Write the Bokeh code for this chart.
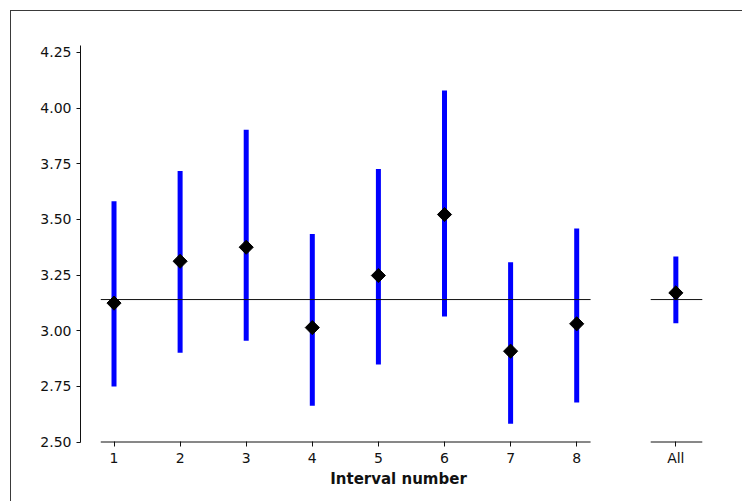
import math

from bokeh.embed import file_html
from bokeh.models import FixedTicker, NumeralTickFormatter, Range1d
from bokeh.plotting import figure
from bokeh.resources import INLINE

# Interval estimates: point value with lower/upper interval limits
intervals = [1, 2, 3, 4, 5, 6, 7, 8]
means = [3.124, 3.312, 3.375, 3.014, 3.248, 3.522, 2.908, 3.031]
lower = [2.749, 2.901, 2.955, 2.663, 2.848, 3.064, 2.582, 2.677]
upper = [3.582, 3.717, 3.903, 3.435, 3.727, 4.079, 3.308, 3.459]

# Pooled estimate over all intervals, drawn apart from the others
all_label = "All"
all_position = 9.5
all_mean = 3.170
all_lower = 3.034
all_upper = 3.333

# Reference level shown as a horizontal line
ref_level = 3.14

y_ticks = [2.50, 2.75, 3.00, 3.25, 3.50, 3.75, 4.00, 4.25]
x_tick_positions = intervals + [all_position]
x_tick_labels = [str(i) for i in intervals] + [all_label]

FONT = "DejaVu Sans"
BLUE = "#0000ff"
INK = "#111111"

p = figure(
    width=732,
    height=491,
    x_range=Range1d(0.493, 10.115),
    y_range=Range1d(2.4933, 4.2813),
    output_backend="svg",
    toolbar_location=None,
    min_border_left=69,
    min_border_right=27,
    min_border_top=34,
    min_border_bottom=59,
)
p.margin = (10, 0, 0, 10)
p.styles = {"border-top": "1px solid #3a3a3a", "border-left": "1px solid #3a3a3a"}
p.background_fill_color = "white"
p.border_fill_color = "white"
p.outline_line_color = None
p.xgrid.visible = False
p.ygrid.visible = False

# Horizontal extents of the two groups (intervals 1-8 and the pooled one)
group_x0 = [intervals[0] - 0.2, all_position - 0.38]
group_x1 = [intervals[-1] + 0.21, all_position + 0.4]
base = y_ticks[0]

# Broken x-axis baseline, one piece per group
p.segment(x0=group_x0, y0=[base, base], x1=group_x1, y1=[base, base],
          line_color=INK, line_width=1)

# Interval bars
p.segment(x0=intervals, y0=lower, x1=intervals, y1=upper,
          line_color=BLUE, line_width=5)
p.segment(x0=[all_position], y0=[all_lower], x1=[all_position], y1=[all_upper],
          line_color=BLUE, line_width=5)

# Reference line across each group
p.segment(x0=group_x0, y0=[ref_level, ref_level], x1=group_x1, y1=[ref_level, ref_level],
          line_color=INK, line_width=1)

# Point estimates as diamonds
p.scatter(x=intervals, y=means, marker="square", angle=math.pi / 4, size=10,
          fill_color="black", line_color="black")
p.scatter(x=[all_position], y=[all_mean], marker="square", angle=math.pi / 4, size=10,
          fill_color="black", line_color="black")

# x axis: ticks only, the baseline is drawn above in pieces
xa = p.xaxis[0]
xa.ticker = FixedTicker(ticks=x_tick_positions)
xa.major_label_overrides = dict(zip(x_tick_positions, x_tick_labels))
xa.axis_line_color = None
xa.major_tick_in = 2
xa.major_tick_out = 3
xa.minor_tick_in = 0
xa.minor_tick_out = 0
xa.major_tick_line_color = INK
xa.major_label_standoff = 3
xa.major_label_text_font = FONT
xa.major_label_text_font_size = "14px"
xa.major_label_text_color = INK
xa.axis_label = "Interval number"
xa.axis_label_text_font = FONT
xa.axis_label_text_font_size = "15px"
xa.axis_label_text_font_style = "bold"
xa.axis_label_text_color = INK
xa.axis_label_standoff = 1

ya = p.yaxis[0]
ya.ticker = FixedTicker(ticks=y_ticks)
ya.formatter = NumeralTickFormatter(format="0.00")
ya.bounds = (y_ticks[0], p.y_range.end)
ya.axis_line_color = INK
ya.major_tick_in = 0
ya.major_tick_out = 4
ya.minor_tick_in = 0
ya.minor_tick_out = 0
ya.major_tick_line_color = INK
ya.major_label_standoff = 5
ya.major_label_text_font = FONT
ya.major_label_text_font_size = "14px"
ya.major_label_text_color = INK

open("out.html", "w").write(file_html(p, INLINE))
